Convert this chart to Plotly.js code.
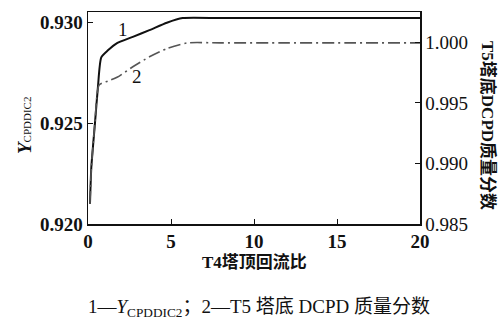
<!DOCTYPE html>
<html><head><meta charset="utf-8">
<script src="https://cdn.plot.ly/plotly-3.0.1.min.js"></script>
<style>html,body{margin:0;padding:0;background:#fff}#c{width:498px;height:320px}</style>
</head><body><div id="c"></div>
<script>
const ratioX1 = [0.12, 0.2, 0.42, 0.6, 0.8, 1.2, 1.75, 2.7, 3.7, 4.75, 5.7, 8, 12, 16, 20];
const yCPDDIC2 = [0.9210, 0.9228, 0.9250, 0.9268, 0.92825, 0.9286, 0.92896, 0.92927, 0.9296, 0.92997, 0.9302, 0.9302, 0.9302, 0.9302, 0.9302];
const ratioX2 = [0.12, 0.2, 0.42, 0.67, 1.2, 1.75, 2.7, 3.7, 4.75, 6, 8, 12, 16, 20];
const dcpdFrac = [0.98672, 0.98959, 0.99336, 0.99648, 0.9968, 0.99711, 0.99798, 0.9988, 0.99948, 0.99995, 0.99995, 0.99995, 0.99995, 0.99995];
const xTicks = [0, 5, 10, 15, 20];
const yTicksL = [0.920, 0.925, 0.930];
const yTicksR = [0.985, 0.990, 0.995, 1.000];

const F = "Liberation Serif, Times New Roman, Noto Sans CJK SC, serif";
const data = [
  {x: ratioX1, y: yCPDDIC2, mode: 'lines', line: {color: '#111', width: 2, shape: 'spline', smoothing: 0.6}, yaxis: 'y', hoverinfo: 'skip'},
  {x: ratioX2, y: dcpdFrac, mode: 'lines', line: {color: '#555', width: 1.6, dash: '12px,4px,2px,4px', shape: 'spline', smoothing: 0.6}, yaxis: 'y2', hoverinfo: 'skip'}
];
const layout = {
  width: 498, height: 320,
  margin: {l: 88, r: 78, t: 12, b: 96},
  paper_bgcolor: '#fff', plot_bgcolor: '#fff',
  showlegend: false,
  font: {family: F, size: 19, color: '#111'},
  xaxis: {range: [0, 20], tickvals: xTicks, ticktext: xTicks.map(v => '<b>' + v + '</b>'), ticks: 'inside', ticklen: 5, tickcolor: '#111',
    showline: true, linecolor: '#111', linewidth: 1.5, mirror: true, showgrid: false, zeroline: false,
    tickfont: {family: F, size: 19, color: '#111'}},
  yaxis: {range: [0.920, 0.9305], tickvals: yTicksL, ticktext: yTicksL.map(v => '<b>' + v.toFixed(3) + '</b>'), ticks: 'inside', ticklen: 5, tickcolor: '#111',
    showline: true, linecolor: '#111', linewidth: 1.5, showgrid: false, zeroline: false,
    tickfont: {family: F, size: 19, color: '#111'}},
  yaxis2: {range: [0.985, 1.0025], tickvals: yTicksR, tickformat: '.3f', overlaying: 'y', side: 'right', ticks: 'inside', ticklen: 5, tickcolor: '#111',
    showline: true, linecolor: '#111', linewidth: 1.5, showgrid: false, zeroline: false,
    tickfont: {family: F, size: 19, color: '#111'}},
  annotations: [
    {text: '1', x: 2.1, y: 0.92965, xref: 'x', yref: 'y', showarrow: false, font: {family: F, size: 19}},
    {text: '2', x: 2.95, y: 0.99714, xref: 'x', yref: 'y2', showarrow: false, font: {family: F, size: 19}},
    {text: '<b>T4塔顶回流比</b>', xref: 'paper', yref: 'paper', x: 0.5, xanchor: 'center', y: 0, yanchor: 'middle', yshift: -38, showarrow: false, font: {family: F, size: 17}},
    {text: '<b>T5塔底DCPD质量分数</b>', xref: 'paper', yref: 'paper', x: 1, xanchor: 'center', xshift: 68, y: 0.5, yanchor: 'middle', yshift: -7, textangle: 90, showarrow: false, font: {family: F, size: 17}},
    {text: '<b><i>Y</i></b><span style="font-size:11px">CPDDIC2</span>', xref: 'paper', yref: 'paper', x: 0, xanchor: 'center', xshift: -64, y: 0.5, yanchor: 'middle', yshift: -8, textangle: -90, showarrow: false, font: {family: F, size: 19}},
    {text: '1—<i>Y</i><sub>CPDDIC2</sub>；2—T5 塔底 DCPD 质量分数', xref: 'paper', yref: 'paper', x: 0.5, xanchor: 'center', xshift: 5, y: 0, yanchor: 'middle', yshift: -84, showarrow: false, font: {family: F, size: 19}}
  ]
};
Plotly.newPlot('c', data, layout, {displayModeBar: false, staticPlot: true});
</script></body></html>
